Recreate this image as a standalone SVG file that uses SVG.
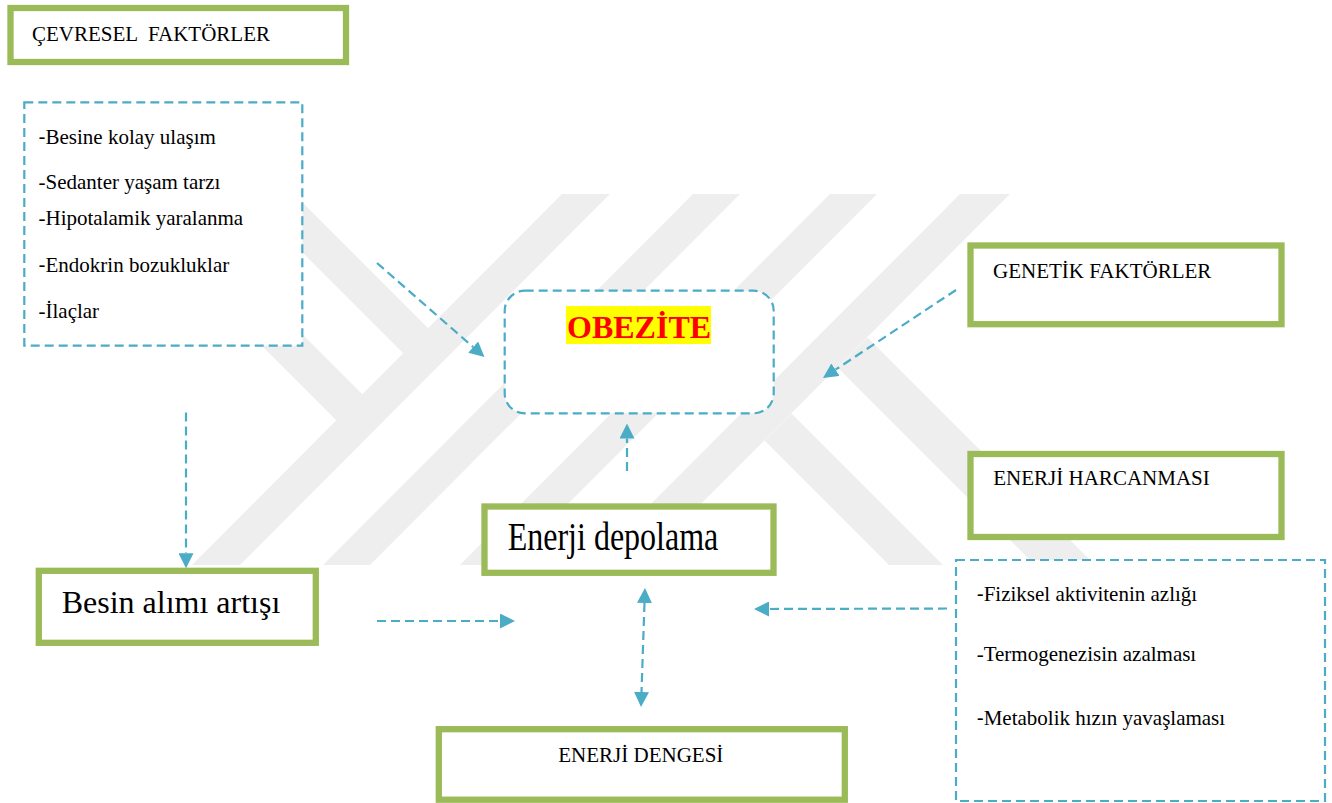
<svg xmlns="http://www.w3.org/2000/svg" width="1332" height="803" viewBox="0 0 1332 803">
<style>
.g{fill:#fff;stroke:#9BBB59;stroke-width:6.3}
.d{fill:#fff;stroke:#4BACC6;stroke-width:2.2;stroke-dasharray:9 5}
.c{fill:none;stroke:#4BACC6;stroke-width:2.2;stroke-dasharray:9 5}
.t{font-family:"Liberation Serif","Times New Roman",serif;fill:#000}
.s{font-size:21px}
.b{font-size:32px}
.h{font-family:"Liberation Sans",Arial,sans-serif}
</style>
<defs>
<marker id="ah" markerUnits="userSpaceOnUse" markerWidth="15" markerHeight="15" refX="0" refY="7.5" orient="auto-start-reverse" viewBox="0 0 15 15">
<path d="M0,0 L15,7.5 L0,15 z" fill="#4BACC6"/>
</marker>
</defs>
<rect width="1332" height="803" fill="#fff"/>
<g id="watermark" fill="#eeeeee">
<polygon points="562,194 610,194 240,565 192,565"/>
<polygon points="693,194 740,194 370,565 323,565"/>
<polygon points="830,194 877,194 507,565 460,565"/>
<polygon points="960,194 1010,194 640,565 590,565"/>
<polygon points="245,195 295,195 428.5,328.5 403.5,353.5"/>
<polygon points="111,195 163,195 362.5,394.5 336.5,420.5"/>
<polygon points="791.5,413.5 943,565 889,565 764.5,440.5"/>
<polygon points="867.5,337.5 1095,565 1035,565 837.5,367.5"/>
</g>
<g id="cevresel">
<rect class="g" x="10.5" y="8" width="335.5" height="54"/>
<text class="t s" x="32" y="41" style="white-space:pre">ÇEVRESEL  FAKTÖRLER</text>
</g>
<g id="cevresel-list">
<rect class="d" x="24.3" y="102.3" width="278" height="243.4"/>
<text class="t s" x="38.5" y="143.5"><tspan class="h">-</tspan>Besine kolay ulaşım</text>
<text class="t s" x="38.5" y="188.5">-Sedanter yaşam tarzı</text>
<text class="t s" x="38.5" y="225">-Hipotalamik yaralanma</text>
<text class="t s" x="38.5" y="271.5"><tspan class="h">-</tspan>Endokrin bozukluklar</text>
<text class="t s" x="38.5" y="317.5">-İlaçlar</text>
</g>
<g id="obezite">
<rect class="d" x="504.7" y="290.7" width="269" height="122.6" rx="20" ry="20"/>
<rect x="566" y="306" width="145" height="38" fill="#FFFF00"/>
<text class="t b" x="567" y="337.5" font-weight="bold" style="fill:#FF0000">OBEZİTE</text>
</g>
<g id="genetik">
<rect class="g" x="970.5" y="245.5" width="311" height="78.7"/>
<text class="t s" x="993" y="277.7">GENETİK FAKTÖRLER</text>
</g>
<g id="harcanma">
<rect class="g" x="970.5" y="454" width="311" height="83"/>
<text class="t s" x="993.3" y="485.3">ENERJİ HARCANMASI</text>
</g>
<g id="harcanma-list">
<rect class="d" x="956" y="560" width="369" height="241"/>
<text class="t s" x="976.7" y="600.7"><tspan class="h">-</tspan>Fiziksel aktivitenin azlığı</text>
<text class="t s" x="976.7" y="660.7">-Termogenezisin azalması</text>
<text class="t s" x="976.7" y="725"><tspan class="h">-</tspan>Metabolik hızın yavaşlaması</text>
</g>
<g id="besin">
<rect class="g" x="38.8" y="570.8" width="277" height="72"/>
<text class="t b" x="61.7" y="612.7">Besin alımı artışı</text>
</g>
<g id="depolama">
<rect class="g" x="484.5" y="506.5" width="289" height="66.3"/>
<text class="t b" transform="translate(507.7,550) scale(1,1.25)" x="0" y="0">Enerji depolama</text>
</g>
<g id="denge">
<rect class="g" x="438.8" y="729.2" width="406" height="70.5"/>
<text class="t s" x="558.3" y="761.7">ENERJİ DENGESİ</text>
</g>
<g id="connectors">
<line class="c" x1="377" y1="263" x2="473.2" y2="347.1" marker-end="url(#ah)"/>
<line class="c" x1="956" y1="290" x2="835.5" y2="369.7" marker-end="url(#ah)"/>
<line class="c" x1="627" y1="471" x2="627" y2="438.5" marker-end="url(#ah)"/>
<line class="c" x1="186" y1="412.5" x2="186" y2="553.3" marker-end="url(#ah)"/>
<line class="c" x1="377" y1="621" x2="500" y2="621" marker-end="url(#ah)"/>
<line class="c" x1="644.5" y1="603" x2="641.5" y2="692" marker-start="url(#ah)" marker-end="url(#ah)"/>
<line class="c" x1="947" y1="608.5" x2="769" y2="609" marker-end="url(#ah)"/>
</g>
</svg>
